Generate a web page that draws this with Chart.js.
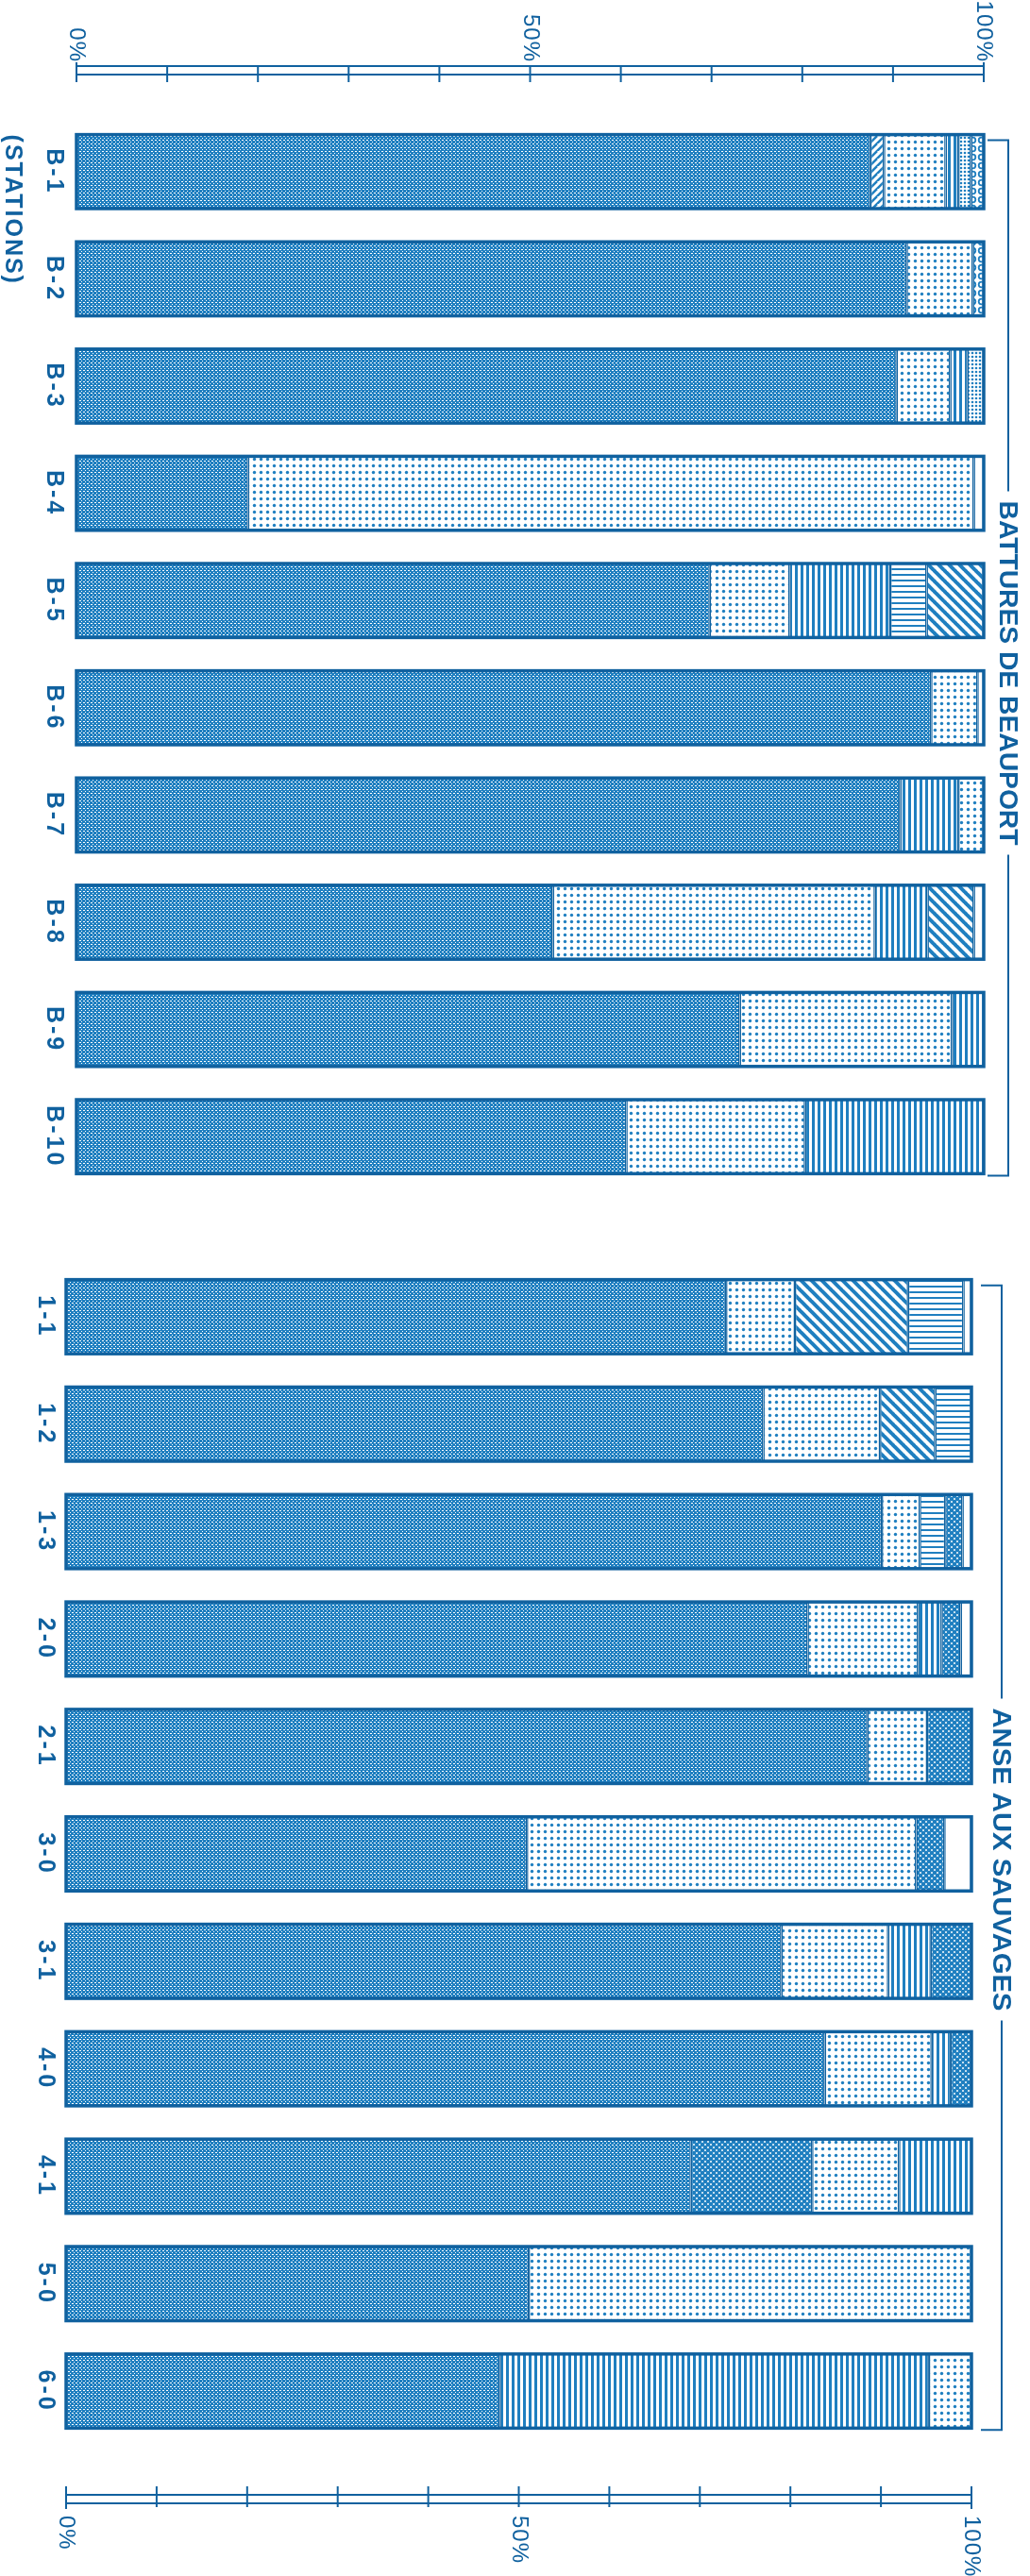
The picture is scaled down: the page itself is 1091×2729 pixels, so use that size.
<!DOCTYPE html>
<html>
<head>
<meta charset="utf-8">
<script src="https://cdn.jsdelivr.net/npm/chart.js@4.4.1/dist/chart.umd.min.js"></script>
<style>
  html, body { margin: 0; background: #fff; }
  #page { position: relative; width: 1091px; height: 2729px; }
  #page canvas { position: absolute; left: 0; }
</style>
</head>
<body>
<div id="page">
  <canvas id="beauport" width="1091" height="1300" style="top:0"></canvas>
  <canvas id="anse" width="1091" height="1429" style="top:1300px"></canvas>
</div>
<script>
// Stations, by group
const beauportStations = ['B-1', 'B-2', 'B-3', 'B-4', 'B-5', 'B-6', 'B-7', 'B-8', 'B-9', 'B-10'];
const anseStations = ['1-1', '1-2', '1-3', '2-0', '2-1', '3-0', '3-1', '4-0', '4-1', '5-0', '6-0'];
const groupNames = ['BATTURES DE BEAUPORT', 'ANSE AUX SAUVAGES'];

// Axis
const axisTicks = [0, 10, 20, 30, 40, 50, 60, 70, 80, 90, 100];
const axisLabelValues = [0, 50, 100];
const axisLabels = ['0%', '50%', '100%'];

// Percent of each segment, in the order it is stacked (B-1..B-10, then 1-1..6-0)
const denseFine   = [87.5, 91.5, 90.4, 18.9, 69.8, 94.2, 90.8, 52.5, 73.1, 60.6, 72.9, 77.0, 90.1, 81.9, 88.5, 50.9, 79.0, 83.8, 69.0, 51.1, 47.9];
const coarseFirst = [0, 0, 0, 0, 0, 0, 0, 0, 0, 0, 0, 0, 0, 0, 0, 0, 0, 0, 13.4, 0, 0];
const vertFirst   = [0, 0, 0, 0, 0, 0, 6.4, 0, 0, 0, 0, 0, 0, 0, 0, 0, 0, 0, 0, 0, 47.4];
const slashes     = [1.5, 0, 0, 0, 0, 0, 0, 0, 0, 0, 0, 0, 0, 0, 0, 0, 0, 0, 0, 0, 0];
const dotted      = [6.8, 7.3, 5.9, 80.0, 8.8, 5.1, 2.8, 35.5, 23.4, 19.7, 7.6, 12.9, 4.2, 12.2, 6.6, 43.0, 11.8, 11.8, 9.6, 48.9, 4.7];
const vertical    = [1.4, 0, 1.9, 0, 11.1, 0, 0, 5.8, 3.5, 19.7, 0, 0, 0, 2.6, 0, 0, 4.7, 2.1, 8.0, 0, 0];
const horizFirst  = [0, 0, 0, 0, 4.0, 0, 0, 0, 0, 0, 0, 0, 0, 0, 0, 0, 0, 0, 0, 0, 0];
const diagonal    = [0, 0, 0, 0, 6.3, 0, 0, 5.1, 0, 0, 12.5, 6.1, 0, 0, 0, 0, 0, 0, 0, 0, 0];
const horizontal  = [0, 0, 0, 0, 0, 0, 0, 0, 0, 0, 6.1, 4.0, 2.8, 0, 0, 0, 0, 0, 0, 0, 0];
const coarse      = [0, 0, 0, 0, 0, 0, 0, 0, 0, 0, 0, 0, 1.9, 2.1, 4.9, 3.1, 4.5, 2.3, 0, 0, 0];
const darkDots    = [1.4, 0, 1.8, 0, 0, 0, 0, 0, 0, 0, 0, 0, 0, 0, 0, 0, 0, 0, 0, 0, 0];
const loops       = [1.4, 1.2, 0, 0, 0, 0, 0, 0, 0, 0, 0, 0, 0, 0, 0, 0, 0, 0, 0, 0, 0];
const blank       = [0, 0, 0, 1.1, 0, 0.7, 0, 1.1, 0, 0, 0.9, 0, 1.0, 1.2, 0, 3.0, 0, 0, 0, 0, 0];

const ink = '#10619f';
const blue = '#1f7fc0';

function tile(w, h, draw) {
  const c = document.createElement('canvas');
  c.width = w; c.height = h;
  const g = c.getContext('2d');
  g.fillStyle = '#fff';
  g.fillRect(0, 0, w, h);
  g.fillStyle = blue;
  g.strokeStyle = blue;
  draw(g);
  return g.createPattern(c, 'repeat');
}

const pats = {
  dense: tile(4, 4, g => { g.fillRect(0, 0, 4, 4); g.fillStyle = '#fff'; g.fillRect(0, 0, 1, 1); g.fillRect(2, 2, 1, 1); g.fillRect(1, 0, 1, 1); }),
  dots: tile(7, 7, g => { g.beginPath(); g.arc(3.5, 3.5, 1.7, 0, Math.PI * 2); g.fill(); }),
  vert: tile(6, 6, g => g.fillRect(2, 0, 3, 6)),
  horiz: tile(6, 6, g => g.fillRect(0, 2, 6, 2)),
  diag: tile(11, 11, g => {
    g.lineWidth = 4;
    [-11, 0, 11].forEach(o => { g.beginPath(); g.moveTo(o - 1, -1); g.lineTo(o + 12, 12); g.stroke(); });
  }),
  coarse: tile(6, 6, g => {
    [[0, 0], [6, 0], [0, 6], [6, 6], [3, 3]].forEach(p => { g.beginPath(); g.arc(p[0], p[1], 2.3, 0, Math.PI * 2); g.fill(); });
  }),
  slash: tile(8, 8, g => {
    g.lineWidth = 2.5;
    [-8, 0, 8].forEach(o => { g.beginPath(); g.moveTo(o, 9); g.lineTo(o + 9, 0); g.stroke(); });
  }),
  loops: tile(9, 9, g => { g.lineWidth = 1.8; g.beginPath(); g.arc(4.5, 4.5, 2.8, 0, Math.PI * 2); g.stroke(); }),
  darkDots: tile(4, 4, g => { g.beginPath(); g.arc(2, 2, 1.3, 0, Math.PI * 2); g.fill(); }),
  blank: '#fff'
};

const series = [
  [denseFine, pats.dense], [coarseFirst, pats.coarse], [vertFirst, pats.vert], [slashes, pats.slash],
  [dotted, pats.dots], [vertical, pats.vert], [horizFirst, pats.horiz], [diagonal, pats.diag],
  [horizontal, pats.horiz], [coarse, pats.coarse], [darkDots, pats.darkDots], [loops, pats.loops],
  [blank, pats.blank]
];

function rotText(ctx, s, x, y, align, font, spacing) {
  ctx.save();
  ctx.translate(x, y);
  ctx.rotate(Math.PI / 2);
  ctx.font = font;
  ctx.letterSpacing = spacing || '0px';
  ctx.textAlign = align;
  ctx.textBaseline = 'middle';
  ctx.fillStyle = ink;
  ctx.fillText(s, 0, 0);
  ctx.restore();
}

const sketch = {
  id: 'sketch',
  afterDatasetsDraw(chart, args, o) {
    const ctx = chart.ctx, xs = chart.scales.x, ys = chart.scales.y;
    const n = chart.data.labels.length;
    const meta0 = chart.getDatasetMeta(0);
    ctx.save();
    ctx.strokeStyle = ink;
    ctx.fillStyle = ink;

    // outer outline of each bar
    ctx.lineWidth = 3.5;
    for (let i = 0; i < n; i++) {
      const total = chart.data.datasets.reduce((s, d) => s + d.data[i], 0);
      const el = meta0.data[i];
      const x0 = xs.getPixelForValue(0), x1 = xs.getPixelForValue(total);
      ctx.strokeRect(x0, el.y - el.height / 2, x1 - x0, el.height);
    }

    // station labels
    const labelFont = 'bold 25px "Liberation Sans", Arial, sans-serif';
    chart.data.labels.forEach((s, i) => {
      rotText(ctx, s, xs.getPixelForValue(0) - o.labelGap, ys.getPixelForValue(i), 'center', labelFont, '3px');
    });
    if (o.title) {
      const el = meta0.data[0];
      rotText(ctx, o.title, 13, el.y - el.height / 2, 'left', labelFont, '2px');
    }

    // percent axis: double rule with ticks
    ctx.lineWidth = 2;
    const ax0 = xs.getPixelForValue(0), ax1 = xs.getPixelForValue(100);
    [o.axisY, o.axisY + 9].forEach(y => { ctx.beginPath(); ctx.moveTo(ax0, y); ctx.lineTo(ax1, y); ctx.stroke(); });
    axisTicks.forEach(t => {
      const x = xs.getPixelForValue(t);
      ctx.beginPath();
      if (o.axisSide === 'top') { ctx.moveTo(x, o.axisY - (t % 100 ? 0 : 4)); ctx.lineTo(x, o.axisY + 17); }
      else { ctx.moveTo(x, o.axisY - 9); ctx.lineTo(x, o.axisY + 9 + (t % 100 ? 4 : 6)); }
      ctx.stroke();
    });
    const tickFont = '24px "Liberation Sans", Arial, sans-serif';
    axisLabelValues.forEach((v, k) => {
      const x = xs.getPixelForValue(v);
      if (o.axisSide === 'top') rotText(ctx, axisLabels[k], x, o.axisY - 4, 'right', tickFont, '1px');
      else rotText(ctx, axisLabels[k], x, o.axisY + 22, 'left', tickFont, '1px');
    });

    // group bracket and name
    const first = meta0.data[0], last = meta0.data[n - 1];
    const yTop = first.y - first.height / 2 + 6, yBot = last.y + last.height / 2 + 2;
    const gy0 = o.groupMid - o.groupLen / 2 - 10, gy1 = o.groupMid + o.groupLen / 2 + 10;
    ctx.lineWidth = 2;
    ctx.beginPath();
    ctx.moveTo(o.groupX - 22, yTop); ctx.lineTo(o.groupX, yTop); ctx.lineTo(o.groupX, gy0);
    ctx.moveTo(o.groupX, gy1); ctx.lineTo(o.groupX, yBot); ctx.lineTo(o.groupX - 22, yBot);
    ctx.stroke();
    ctx.translate(o.groupX - 1, o.groupMid);
    ctx.rotate(Math.PI / 2);
    ctx.font = 'bold 28px "Liberation Sans Narrow", "Liberation Sans", Arial, sans-serif';
    const w = ctx.measureText(o.group).width;
    ctx.scale(o.groupLen / w, 1);
    ctx.textAlign = 'center';
    ctx.textBaseline = 'middle';
    ctx.fillText(o.group, 0, 0);
    ctx.restore();
  }
};

function makeChart(id, labels, from, padding, opts) {
  return new Chart(document.getElementById(id), {
    type: 'bar',
    data: {
      labels: labels,
      datasets: series.map(s => ({
        data: s[0].slice(from, from + labels.length),
        backgroundColor: s[1],
        borderColor: ink,
        borderWidth: { left: 1.5, right: 1.5, top: 0, bottom: 0 },
        borderSkipped: false,
        barPercentage: 0.69,
        categoryPercentage: 1
      }))
    },
    options: {
      indexAxis: 'y',
      responsive: false,
      animation: false,
      layout: { padding: padding },
      scales: {
        x: { stacked: true, min: 0, max: 100, display: false },
        y: { stacked: true, display: false }
      },
      plugins: {
        legend: { display: false },
        tooltip: { enabled: false },
        sketch: opts
      }
    },
    plugins: [sketch]
  });
}

makeChart('beauport', beauportStations, 0, { left: 81, right: 49, top: 125, bottom: 39 }, {
  axisSide: 'top', axisY: 70, labelGap: 24, title: '(STATIONS)',
  group: groupNames[0], groupX: 1068, groupMid: 713, groupLen: 365
});
makeChart('anse', anseStations, beauportStations.length, { left: 70, right: 62, top: 38, bottom: 139 }, {
  axisSide: 'bottom', axisY: 1343, labelGap: 22, title: '',
  group: groupNames[1], groupX: 1061, groupMid: 670, groupLen: 321
});
</script>
</body>
</html>
